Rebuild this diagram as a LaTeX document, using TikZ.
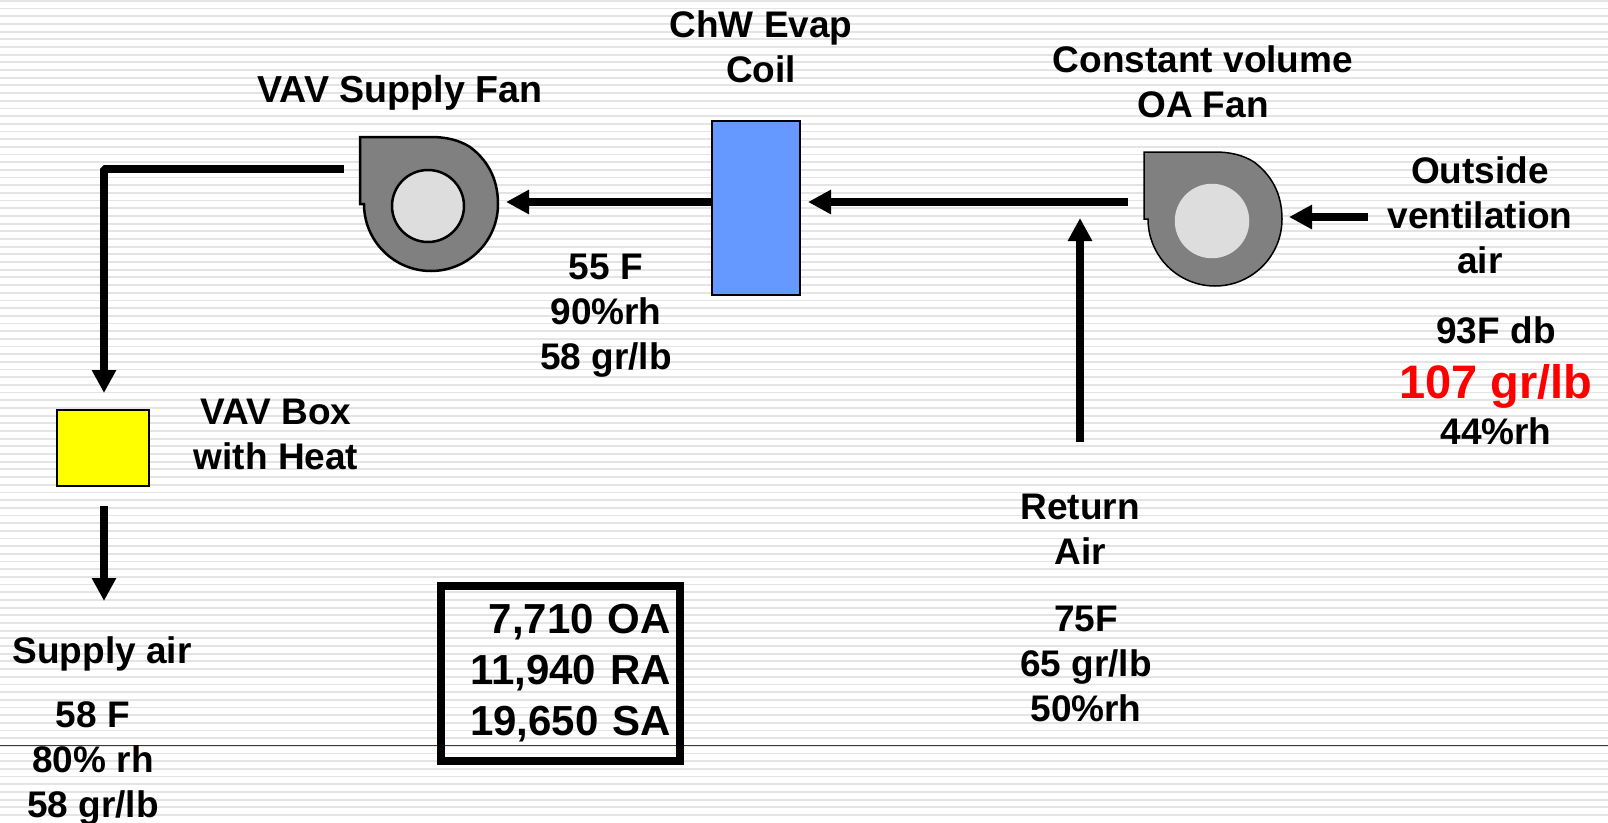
\documentclass[tikz,border=0pt]{standalone}
\usepackage{fontspec}
\setmainfont{Liberation Sans}
\usetikzlibrary{arrows.meta}

\definecolor{stripegray}{HTML}{E4E4E4}
\definecolor{fangray}{HTML}{808080}
\definecolor{eyegray}{HTML}{DDDDDD}
\definecolor{coilblue}{HTML}{6699FF}
\definecolor{boxyellow}{HTML}{FFFF00}
\definecolor{rulered}{HTML}{C00000}
\definecolor{hotred}{HTML}{FF0000}

\tikzset{
  flow/.style={line width=8pt,line join=bevel,-{Triangle[length=23pt,width=23pt]}},
  lbl/.style={font=\fontsize{37}{45}\selectfont\bfseries,align=center,inner sep=0pt},
  pics/blower/.style args={#1/#2}{code={
    \draw[line width=#1,fill=fangray] (-71,-68)--(-71,-1)--(-67,-1)
      arc[start angle=180,end angle=360,radius=67pt]
      .. controls (67,-28) and (55,-46) .. (39,-58)
      .. controls (28,-65) and (15,-68) .. (0,-68)--cycle;
    \draw[line width=2.5pt,draw=#2,fill=eyegray] (-3,1) circle[radius=36pt];
  }}
}

\begin{document}
\begin{tikzpicture}[x=1pt,y=-1pt]
  \useasboundingbox[fill=white] (0,0) rectangle (1608,822);
  \foreach \i in {0,...,106}
    \fill[stripegray] (0,{\i*7.68}) rectangle (1608,{\i*7.68+1.8});
  \coordinate (ruleL) at (0,745);
  \coordinate (ruleR) at (1608,745);
  \draw[rulered,line width=0.8pt] (ruleL)--(ruleR);

  \pic at (431,205) {blower=2.5pt/black};
  \pic at (1215,220) {blower=1.5pt/eyegray};
  \node[draw,line width=1.5pt,fill=coilblue,minimum width=88pt,minimum height=174pt,inner sep=0pt,outer sep=0pt] (coil) at (756,208) {};
  \node[draw,line width=2.5pt,fill=boxyellow,minimum width=92pt,minimum height=76pt,inner sep=0pt,outer sep=0pt] (vavbox) at (103,448) {};

  \coordinate (oaIn) at (1368,217);
  \coordinate (oaTip) at (1289,217);
  \coordinate (oaOut) at (1128,202);
  \coordinate (coilIn) at (808,202);
  \coordinate (coilOut) at (712,202);
  \coordinate (fanTip) at (506,202);
  \coordinate (retFrom) at (1080,442);
  \coordinate (retTip) at (1080,218);
  \coordinate (saOut) at (344,169);
  \coordinate (saBend) at (104,169);
  \coordinate (boxTip) at (104,393);
  \coordinate (boxOut) at (104,506);
  \coordinate (saTip) at (104,601);
  \draw[flow] (oaIn)--(oaTip);
  \draw[flow] (oaOut)--(coilIn);
  \draw[flow] (coilOut)--(fanTip);
  \draw[flow] (retFrom)--(retTip);
  \draw[flow] (saOut)--(saBend)--(boxTip);
  \draw[flow] (boxOut)--(saTip);

  \node[lbl,font=\fontsize{37.6}{45}\selectfont\bfseries] (fanname) at (400,93) {VAV Supply Fan};
  \node[lbl] (coilname) at (761,47) {ChW Evap\\Coil};
  \node[lbl] (oaname) at (1203,82) {Constant volume\\OA Fan};
  \node[lbl] (oalabel) at (1480,215) {Outside\\ventilation\\air};
  \node[lbl] (oadb) at (1496,330) {93F db};
  \node[lbl,font=\fontsize{47}{50}\selectfont\bfseries,text=hotred] (oagr) at (1496,386) {107 gr/lb};
  \node[lbl] (oarh) at (1496,431) {44\%rh};
  \node[lbl] (coilstate) at (606,316) {55 F\\90\%rh\\58 gr/lb};
  \node[lbl] (boxname) at (276,434) {VAV Box\\with Heat};
  \node[lbl] (retname) at (1080,529) {Return\\Air};
  \node[lbl] (retstate) at (1086,664) {75F\\65 gr/lb\\50\%rh};
  \node[lbl] (saname) at (102,654) {Supply air};
  \node[lbl] (sastate) at (93,763) {58 F\\80\% rh\\58 gr/lb};

  \node[draw,line width=8pt,minimum width=239pt,minimum height=175pt,outer sep=0pt,inner xsep=9pt,inner ysep=0pt,text width=221pt,align=right,font=\fontsize{42}{51}\selectfont\bfseries] (flows) at (560.5,673.5) {7,710 OA\\11,940 RA\\19,650 SA};
\end{tikzpicture}
\end{document}
